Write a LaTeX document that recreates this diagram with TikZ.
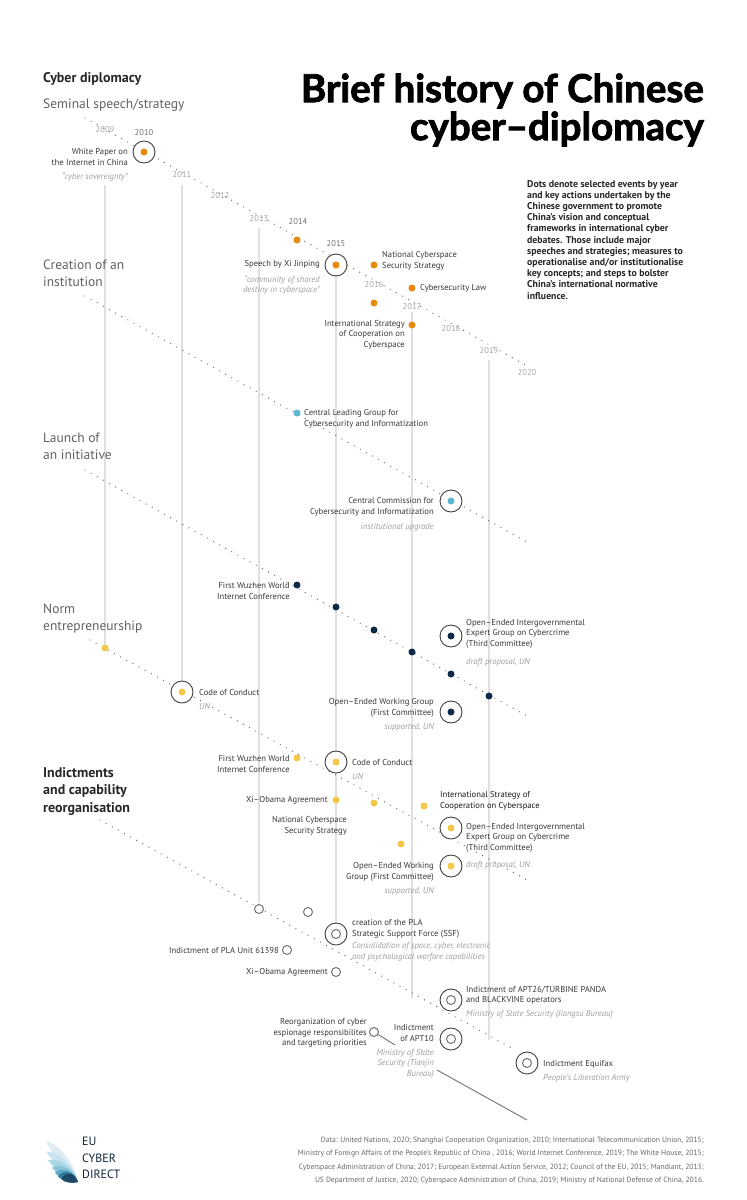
\documentclass[tikz,border=0pt]{standalone}
\usepackage{fontspec}
\setmainfont{PT Sans}
\newfontfamily\titlefont{Lato}[BoldFeatures={FakeBold=2.2}]
\begin{document}
\begin{tikzpicture}[x=1pt,y=-1pt,
  lbl/.style={font=\fontsize{8.6}{10.4}\selectfont,text=black!78,inner sep=0,align=left},
  lblr/.style={lbl,align=right},
  sub/.style={font=\fontsize{8.6}{10.4}\selectfont\itshape,text=black!38,inner sep=0,align=left},
  subr/.style={sub,align=right},
  yr/.style={font=\fontsize{8.5}{10}\selectfont,text=black!35,inner sep=0},
  sec/.style={font=\fontsize{13.5}{17}\selectfont,text=black!62,inner sep=0,anchor=west,align=left},
  vline/.style={draw=black!12,line width=1.1pt},
  track/.style={draw=black!60,line width=1.3pt,line cap=round,dash pattern=on 0pt off 7pt},
  bigc/.style={circle,draw=black!75,line width=0.9pt,minimum size=22pt,inner sep=0},
  dotc/.style={circle,fill=#1,minimum size=7pt,inner sep=0},
  ring/.style={circle,draw=black!55,line width=1pt,minimum size=9pt,inner sep=0,fill=white},
]
\useasboundingbox (0,0) rectangle (747,1200);
\definecolor{cor}{HTML}{E8890C}
\definecolor{ccy}{HTML}{5BB8D0}
\definecolor{cnv}{HTML}{0E2A47}
\definecolor{cyl}{HTML}{F5C748}
% vertical year lines
\draw[vline] (105,185) -- (105,645);
\draw[vline] (182,185) -- (182,681);
\draw[vline] (259,228) -- (259,903);
\draw[vline] (336,276) -- (336,925);
\draw[vline] (412,312) -- (412,998);
\draw[vline] (489,360) -- (489,1040);
% tracks
\draw[track] (85,118) -- (527,366);
\draw[track] (85,296) -- (527,542);
\draw[track] (85,470) -- (527,716);
\draw[track] (90,640) -- (527,880);
\draw[track] (100,820) -- (515,1050);
% titles
\node[font=\fontsize{14}{17}\selectfont\bfseries,text=black!85,anchor=west,inner sep=0] (cd) at (43,79) {Cyber diplomacy};
\node[sec] (s1) at (43,105) {Seminal speech/strategy};
\node[sec] (s2) at (43,273) {Creation of an\\institution};
\node[sec] (s3) at (43,446) {Launch of\\an initiative};
\node[sec] (s4) at (43,619) {Norm\\entrepreneurship};
\node[font=\fontsize{14}{17.5}\selectfont\bfseries,text=black!85,anchor=west,inner sep=0,align=left] (s5) at (43,791) {Indictments\\and capability\\reorganisation};
\node[font=\titlefont\fontsize{38.5}{38}\selectfont\bfseries,anchor=east,align=right,inner sep=0] (title) at (704,110) {Brief history of Chinese\\cyber\textendash diplomacy};
\node[font=\fontsize{9.8}{11.2}\selectfont\bfseries,text=black!85,anchor=north west,align=left,inner sep=0] (desc) at (527,180) {Dots denote selected events by year\\and key actions undertaken by the\\Chinese government to promote\\China's vision and conceptual\\frameworks in international cyber\\debates. Those include major\\speeches and strategies; measures to\\operationalise and/or institutionalise\\key concepts; and steps to bolster\\China's international normative\\influence.};
% years
\node[yr] (y09) at (105,130) {2009};
\node[yr,text=black!55] (y10) at (144,133) {2010};
\node[yr] (y11) at (182,175) {2011};
\node[yr] (y12) at (220,196) {2012};
\node[yr] (y13) at (259,219) {2013};
\node[yr,text=black!55] (y14) at (298,222) {2014};
\node[yr,text=black!55] (y15) at (336,244) {2015};
\node[yr] (y16) at (374,285) {2016};
\node[yr] (y17) at (412,307) {2017};
\node[yr] (y18) at (451,329) {2018};
\node[yr] (y19) at (489,351) {2019};
\node[yr] (y20) at (527,373) {2020};
% orange
\node[bigc,fill=white] (o1) at (144,152) {}; \node[dotc=cor] at (o1) {};
\node[lblr,anchor=east] (o1t) at (128,157) {White Paper on\\the Internet in China};
\node[subr,anchor=east] (o1s) at (128,177) {``cyber sovereignty''};
\node[dotc=cor] (o2) at (297,240) {};
\node[bigc,fill=white] (o3) at (336,265) {}; \node[dotc=cor] at (o3) {};
\node[lblr,anchor=east] (o3t) at (320,264) {Speech by Xi Jinping};
\node[subr,anchor=east] (o3s) at (320,285) {``community of shared\\destiny in cyberspace''};
\node[dotc=cor] (o4) at (374,265) {};
\node[lbl,anchor=west] (o4t) at (382,261) {National Cyberspace\\Security Strategy};
\node[dotc=cor] (o5) at (412,288) {};
\node[lbl,anchor=west] (o5t) at (420,288) {Cybersecurity Law};
\node[dotc=cor] (o6) at (374,303) {};
\node[dotc=cor] (o7) at (412,325) {};
\node[lblr,anchor=north east] (o7t) at (405,320) {International Strategy\\of Cooperation on\\Cyberspace};
% cyan
\node[dotc=ccy] (c1) at (297,413) {};
\node[lbl,anchor=west] (c1t) at (304,419) {Central Leading Group for\\Cybersecurity and Informatization};
\node[bigc,fill=white] (c2) at (451,501) {}; \node[dotc=ccy] at (c2) {};
\node[lblr,anchor=east] (c2t) at (434,507) {Central Commission for\\Cybersecurity and Informatization};
\node[subr,anchor=east] (c2s) at (434,527) {institutional upgrade};
% navy
\node[dotc=cnv] (n1) at (297,585) {};
\node[lblr,anchor=east] (n1t) at (290,591) {First Wuzhen World\\Internet Conference};
\node[dotc=cnv] (n2) at (336,607) {};
\node[dotc=cnv] (n3) at (374,630) {};
\node[dotc=cnv] (n4) at (412,652) {};
\node[dotc=cnv] (n5) at (451,674) {};
\node[dotc=cnv] (n6) at (489,696) {};
\node[bigc,fill=white] (n7) at (451,636) {}; \node[dotc=cnv] at (n7) {};
\node[lbl,anchor=north west] (n7t) at (466,619) {Open\textendash Ended Intergovernmental\\Expert Group on Cybercrime\\(Third Committee)};
\node[sub,anchor=west] (n7s) at (466,662) {draft proposal, UN};
\node[bigc,fill=white] (n8) at (451,712) {}; \node[dotc=cnv] at (n8) {};
\node[lblr,anchor=east] (n8t) at (434,708) {Open\textendash Ended Working Group\\(First Committee)};
\node[subr,anchor=east] (n8s) at (434,727) {supported, UN};
% yellow
\node[dotc=cyl] (e1) at (105,648) {};
\node[bigc,fill=white] (e2) at (182,692) {}; \node[dotc=cyl] at (e2) {};
\node[lbl,anchor=west] (e2t) at (199,692) {Code of Conduct};
\node[sub,anchor=west] (e2s) at (199,706) {UN};
\node[dotc=cyl] (e3) at (297,758) {};
\node[lblr,anchor=east] (e3t) at (290,764) {First Wuzhen World\\Internet Conference};
\node[bigc,fill=white] (e4) at (336,762) {}; \node[dotc=cyl] at (e4) {};
\node[lbl,anchor=west] (e4t) at (352,762) {Code of Conduct};
\node[sub,anchor=west] (e4s) at (352,776) {UN};
\node[dotc=cyl] (e5) at (336,800) {};
\node[lblr,anchor=east] (e5t) at (328,800) {Xi\textendash Obama Agreement};
\node[dotc=cyl] (e6) at (374,803) {};
\node[lblr,anchor=east] (e6t) at (347,826) {National Cyberspace\\Security Strategy};
\node[dotc=cyl] (e7) at (424,806) {};
\node[lbl,anchor=west,text=black!90] (e7t) at (440,801) {International Strategy of\\Cooperation on Cyberspace};
\node[bigc,fill=white] (e8) at (451,828) {}; \node[dotc=cyl] at (e8) {};
\node[lbl,anchor=north west] (e8t) at (466,823) {Open\textendash Ended Intergovernmental\\Expert Group on Cybercrime\\(Third Committee)};
\node[sub,anchor=west] (e8s) at (466,865) {draft proposal, UN};
\node[dotc=cyl] (e9) at (401,844) {};
\node[bigc,fill=white] (e10) at (451,866) {}; \node[dotc=cyl] at (e10) {};
\node[lblr,anchor=east] (e10t) at (434,872) {Open\textendash Ended Working\\Group (First Committee)};
\node[subr,anchor=east] (e10s) at (434,891) {supported, UN};
% gray indictments
\node[ring] (g1) at (259,909) {};
\node[ring] (g2) at (308,912) {};
\node[bigc,fill=white] (g3) at (336,934) {}; \node[ring] at (g3) {};
\node[lbl,anchor=west] (g3t) at (352,929) {creation of the PLA\\Strategic Support Force (SSF)};
\node[sub,anchor=west] (g3s) at (352,952) {Consolidation of space, cyber, electronic\\and psychological warfare capabilities};
\node[ring] (g4) at (287,950) {};
\node[lblr,anchor=east] (g4t) at (279,950) {Indictment of PLA Unit 61398};
\node[ring] (g5) at (336,972) {};
\node[lblr,anchor=east] (g5t) at (328,972) {Xi\textendash Obama Agreement};
\node[bigc,fill=white] (g6) at (451,1000) {}; \node[ring] at (g6) {};
\node[lbl,anchor=west] (g6t) at (466,995) {Indictment of APT26/TURBINE PANDA\\and BLACKVINE operators};
\node[sub,anchor=west] (g6s) at (466,1014) {Ministry of State Security (Jiangsu Bureau)};
\node[ring] (g7) at (374,1032) {};
\node[lblr,anchor=east] (g7t) at (367,1033) {Reorganization of cyber\\espionage responsibilites\\and targeting priorities};
\node[bigc,fill=white] (g8) at (451,1039) {}; \node[ring] at (g8) {};
\node[lblr,anchor=east] (g8t) at (434,1033) {Indictment\\of APT10};
\node[subr,anchor=north east] (g8s) at (434,1049) {Ministry of State\\Security (Tianjin\\Bureau)};
\node[bigc,fill=white] (g9) at (527,1063) {}; \node[ring] at (g9) {};
\node[lbl,anchor=west] (g9t) at (543,1064) {Indictment Equifax};
\node[sub,anchor=west] (g9s) at (543,1078) {People's Liberation Army};
\coordinate (gk) at (395,1045);
\coordinate (gs) at (437,1070);
\coordinate (gend) at (527,1120);
\draw[black!55,line width=0.9pt] (g7) -- (gk);
\draw[black!55,line width=0.9pt] (gs) -- (gend);
% footer
\node[font=\fontsize{7.6}{13.2}\selectfont,text=black!60,anchor=south east,align=right,inner sep=0] (foot) at (704,1184) {Data: United Nations, 2020; Shanghai Cooperation Organization, 2010; International Telecommunication Union, 2015;\\Ministry of Foreign Affairs of the People's Republic of China , 2016; World Internet Conference, 2019; The White House, 2015;\\Cyberspace Administration of China, 2017; European External Action Service, 2012; Council of the EU, 2015; Mandiant, 2013;\\US Department of Justice, 2020; Cyberspace Administration of China, 2019; Ministry of National Defense of China, 2016.};
% logo
\foreach \a/\l/\c in {128/52/DDEDF3,136/44/C4E3EE,144/37/A6D5E5,151/30/83C3D9,158/25/58A6C2,164/21/2F7596,170/17/1B4566}{
  \definecolor{pc}{HTML}{\c}
  \begin{scope}[shift={(78,1182)},rotate=\a]
    \fill[pc,opacity=0.92] (0,0) .. controls (\l*0.3,9) and (\l*0.8,9) .. (\l,0) .. controls (\l*0.8,-3) and (\l*0.3,-3) .. (0,0);
  \end{scope}
}
\node[font=\fontsize{12}{16.5}\selectfont,text=cnv!85!black,anchor=north west,align=left,inner sep=0] (logo) at (82,1137) {EU\\CYBER\\DIRECT};
\end{tikzpicture}
\end{document}
